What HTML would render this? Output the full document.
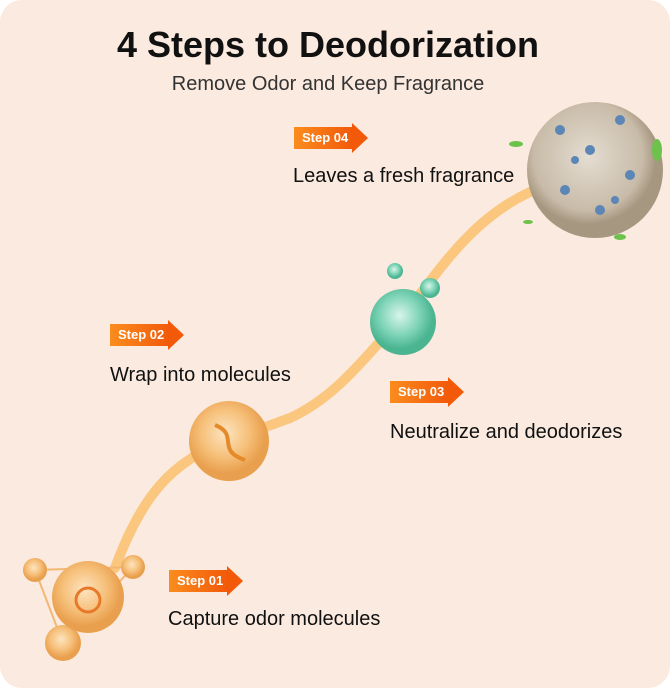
<!DOCTYPE html>
<html><head><style>
body{margin:0;background:#fff;}
.c{position:relative;width:670px;height:688px;background:#fbeadf;border-radius:22px;overflow:hidden;font-family:"Liberation Sans",sans-serif;color:#111;}
.t{position:absolute;left:0;width:656px;text-align:center;}
.b{position:absolute;height:30px;}
.b span{position:absolute;left:0;top:4px;height:22px;background:linear-gradient(90deg,#fb8c1e,#f25a0a);color:#fff;font-weight:bold;font-size:13px;line-height:22px;padding-left:8px;box-sizing:border-box;width:58px;}
.b i{position:absolute;left:58px;top:0;width:0;height:0;border-top:15px solid transparent;border-bottom:15px solid transparent;border-left:16px solid #f25a0a;}
.l{position:absolute;font-size:20px;white-space:nowrap;}
</style></head><body><div class="c">
<div class="t" style="top:24px;font-size:36px;font-weight:bold;">4 Steps to Deodorization</div>
<div class="t" style="top:73px;font-size:20px;color:#333;">Remove Odor and Keep Fragrance</div>
<svg width="670" height="688" style="position:absolute;left:0;top:0">
<defs>
<radialGradient id="o" cx="45%" cy="40%"><stop offset="0" stop-color="#fde4c0"/><stop offset="0.6" stop-color="#f6c07a"/><stop offset="1" stop-color="#e9a04e"/></radialGradient>
<radialGradient id="g" cx="45%" cy="40%"><stop offset="0" stop-color="#d8f5ea"/><stop offset="0.6" stop-color="#7fd4b8"/><stop offset="1" stop-color="#4bb592"/></radialGradient>
<radialGradient id="p" cx="45%" cy="40%"><stop offset="0" stop-color="#e4ddd2"/><stop offset="0.8" stop-color="#c8bba8"/><stop offset="1" stop-color="#a69780"/></radialGradient>
</defs>
<path d="M115,568 C140,500 170,460 230,440 L290,418 C340,395 370,350 400,320 C440,270 470,220 530,192" fill="none" stroke="#fbc77f" stroke-width="10" stroke-linecap="round"/>
<g stroke="#f3b774" stroke-width="2" fill="none"><path d="M35,570 L133,567 L63,643 Z"/></g>
<circle cx="35" cy="570" r="12" fill="url(#o)"/><circle cx="133" cy="567" r="12" fill="url(#o)"/><circle cx="63" cy="643" r="18" fill="url(#o)"/>
<circle cx="88" cy="597" r="36" fill="url(#o)"/>
<circle cx="88" cy="600" r="12" fill="none" stroke="#e8782a" stroke-width="3"/>
<circle cx="229" cy="441" r="40" fill="url(#o)"/>
<path d="M215,425 C240,435 215,450 245,460" stroke="#e58a2a" stroke-width="4" fill="none"/>
<circle cx="403" cy="322" r="33" fill="url(#g)"/>
<circle cx="430" cy="288" r="10" fill="url(#g)"/><circle cx="395" cy="271" r="8" fill="url(#g)"/>
<circle cx="595" cy="170" r="68" fill="url(#p)"/>
<g fill="#5b86b5"><circle cx="560" cy="130" r="5"/><circle cx="590" cy="150" r="5"/><circle cx="620" cy="120" r="5"/><circle cx="630" cy="175" r="5"/><circle cx="565" cy="190" r="5"/><circle cx="600" cy="210" r="5"/><circle cx="575" cy="160" r="4"/><circle cx="615" cy="200" r="4"/></g>
<g fill="#6cc24a"><ellipse cx="657" cy="150" rx="5" ry="11"/><ellipse cx="516" cy="144" rx="7" ry="3"/><ellipse cx="620" cy="237" rx="6" ry="3"/><ellipse cx="528" cy="222" rx="5" ry="2"/></g>
</svg>
<div class="b" style="left:294px;top:123px"><span>Step 04</span><i></i></div>
<div class="l" style="left:293px;top:165px">Leaves a fresh fragrance</div>
<div class="b" style="left:110px;top:320px"><span>Step 02</span><i></i></div>
<div class="l" style="left:110px;top:364px">Wrap into molecules</div>
<div class="b" style="left:390px;top:377px"><span>Step 03</span><i></i></div>
<div class="l" style="left:390px;top:421px">Neutralize and deodorizes</div>
<div class="b" style="left:169px;top:566px"><span>Step 01</span><i></i></div>
<div class="l" style="left:168px;top:608px">Capture odor molecules</div>
</div></body></html>
